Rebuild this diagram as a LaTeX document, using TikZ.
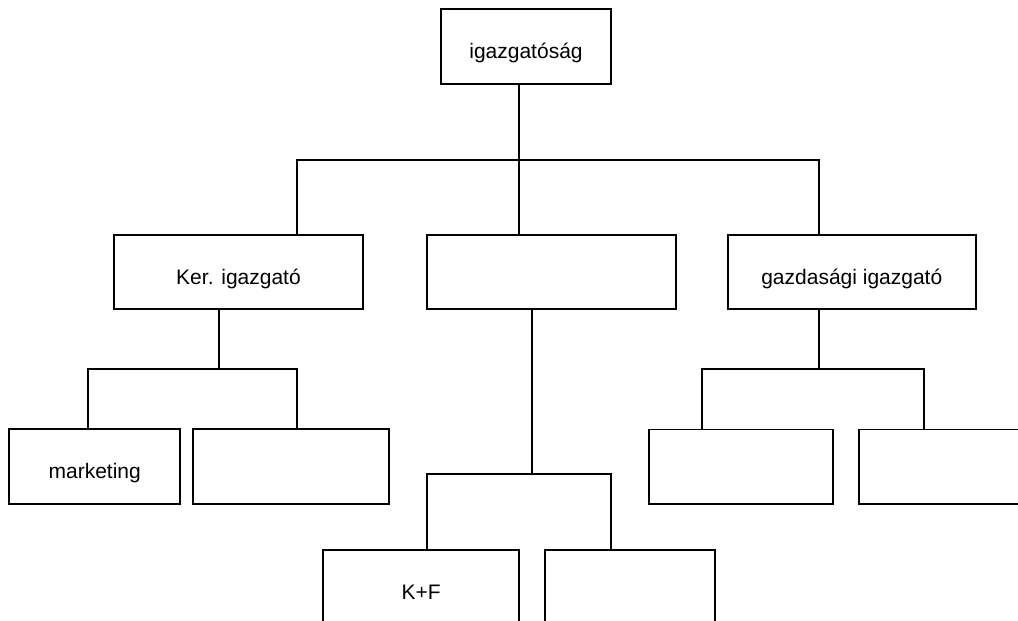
\documentclass[tikz,border=0pt]{standalone}
\usepackage{fontspec}
\setmainfont{Liberation Sans}
\begin{document}
\begin{tikzpicture}[x=1pt,y=-1pt,
  line width=1.8pt,
  box/.style={draw=black, fill=white, rectangle, inner sep=0pt, outer sep=0pt,
    minimum height=74.7pt, font=\fontsize{21}{25}\selectfont,
    text height=24pt, text depth=0pt, align=center},
  conn/.style={draw=black, line width=1.8pt}]
\useasboundingbox (0,0) rectangle (1018,621);
\clip (0,0) rectangle (1018,621);
% boxes
\node[box, minimum width=170pt] (top) at (526,46.7) {igazgatóság};
\node[box, minimum width=249pt] (ker) at (238.5,272) {Ker. igazgató};
\node[box, minimum width=249pt] (mid) at (551.2,272) {};
\node[box, minimum width=248pt] (gazd) at (851.8,272) {gazdasági igazgató};
\node[box, minimum width=170.7pt] (mkt) at (94.7,466.7) {marketing};
\node[box, minimum width=196pt] (m2) at (290.7,466.7) {};
\node[box, minimum width=183.4pt] (g1) at (741,466.8) {};
\node[box, minimum width=183.4pt] (g2) at (950.4,466.8) {};
\node[box, minimum width=196pt] (kf) at (421.2,587) {K+F};
\node[box, minimum width=170pt] (k2) at (630.2,587) {};
% bus coordinates
\coordinate (t1) at (519.3,159.7);
\coordinate (b1L) at (297,159.7);
\coordinate (b1R) at (819.3,159.7);
\coordinate (t2) at (218.7,369.3);
\coordinate (b2L) at (88,369.3);
\coordinate (b2R) at (297,369.3);
\coordinate (t3) at (532,474.3);
\coordinate (b3L) at (427.3,474.3);
\coordinate (b3R) at (610.7,474.3);
\coordinate (t4) at (819.3,369.3);
\coordinate (b4L) at (701.7,369.3);
\coordinate (b4R) at (923.7,369.3);
% level 1
\draw[conn] (top.south -| t1) -- (mid.north -| t1);
\draw[conn] (ker.north -| b1L) -- (b1L) -- (b1R) -- (gazd.north -| b1R);
% Ker. igazgató
\draw[conn] (ker.south -| t2) -- (t2);
\draw[conn] (mkt.north -| b2L) -- (b2L) -- (b2R) -- (m2.north -| b2R);
% middle
\draw[conn] (mid.south -| t3) -- (t3);
\draw[conn] (kf.north -| b3L) -- (b3L) -- (b3R) -- (k2.north -| b3R);
% gazdasagi
\draw[conn] (gazd.south -| t4) -- (t4);
\draw[conn] (g1.north -| b4L) -- (b4L) -- (b4R) -- (g2.north -| b4R);
\end{tikzpicture}
\end{document}
